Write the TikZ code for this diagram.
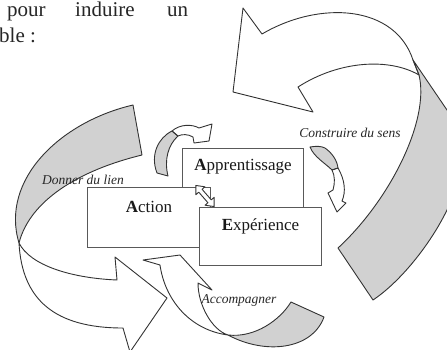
\documentclass[tikz,border=0pt]{standalone}
\usepackage{fontspec}
\setmainfont{Liberation Serif}
\begin{document}
\begin{tikzpicture}[x=1pt,y=-1pt,
  edge/.style={draw=black!80, line width=0.9pt, line join=round},
  back/.style={edge, fill=black!18},
  face/.style={edge, fill=none},
  card/.style={draw=black!65, line width=1.1pt, fill=white, rectangle, inner sep=0pt},
  lbl/.style={font=\fontsize{13.5}{16}\selectfont\itshape, text=black!85, inner sep=0pt},
  word/.style={font=\fontsize{21}{24}\selectfont, anchor=base west, inner sep=0pt, text=black!85},
  title/.style={font=\fontsize{17}{20}\selectfont, text=black!90, inner sep=0pt}]
\useasboundingbox (0,0) rectangle (447,349);
\clip (0,0) rectangle (447,349);

% running text above the figure
\node[word] (w1) at (7,16) {pour};
\node[word] (w2) at (75,16) {induire};
\node[word] (w3) at (167,16) {un};
\node[word] (w4) at (-1,42) {ble :};

% large arrow, right side and top
\path[back] (338,248) -- (373,300) .. controls (400,282) and (430,245) .. (447,210)
  -- (470,160) -- (470,140) -- (447,110) -- (413,60) -- (419,75)
  .. controls (430,120) and (390,200) .. (338,248) -- cycle;
\path[face] (413,60) .. controls (395,5) and (320,0) .. (262,34) -- (243,8) -- (233,92)
  -- (313,112) -- (298,87) .. controls (340,60) and (390,58) .. (419,75) -- cycle;

% large arrow, left side
\path[back] (133,105) .. controls (60,122) and (0,180) .. (19,243)
  .. controls (30,200) and (80,170) .. (142,155) -- cycle;
\path[face] (19,243) .. controls (22,300) and (55,328) .. (123,328) -- (130,352) -- (167,298)
  -- (115,257) -- (117,280) .. controls (70,278) and (30,265) .. (19,243) -- cycle;

% lower arrow
\path[back] (228,335) .. controls (255,338) and (280,320) .. (291,302) -- (324,317)
  .. controls (312,350) and (265,355) .. (228,335) -- cycle;
\path[face] (228,335) .. controls (190,330) and (165,300) .. (160,265) -- (143,260) -- (180,255)
  -- (212,290) -- (198,283) .. controls (198,305) and (212,330) .. (228,335) -- cycle;

% small arrow above the cards
\path[back] (157,173) .. controls (150,155) and (158,138) .. (172,131) -- (178,136)
  .. controls (168,145) and (164,160) .. (168,176) -- cycle;
\path[face] (172,131) .. controls (180,124) and (192,124) .. (199,128) -- (212,124) -- (209,141)
  -- (194,143) -- (193,137) .. controls (188,134) and (182,134) .. (178,136) -- cycle;

% small arrow on the right of the cards
\path[back] (310,147) .. controls (316,146) and (321,146) .. (325,148)
  .. controls (332,153) and (337,160) .. (338,168) -- (332,170)
  .. controls (325,163) and (314,157) .. (310,147) -- cycle;
\path[face] (338,168) .. controls (345,180) and (346,192) .. (342,201) -- (346,203) -- (337,212)
  -- (328,193) -- (333,190) .. controls (335,183) and (335,176) .. (332,170) -- cycle;

% cards
\node[card, minimum width=121pt, minimum height=67pt, anchor=north west] (appr) at (182,148) {};
\node[card, minimum width=123pt, minimum height=60pt, anchor=north west] (act) at (87,187) {};
\node[card, minimum width=122pt, minimum height=58pt, anchor=north west] (exp) at (199,207) {};
\path (appr.north) ++(0,19) node[title] (tappr) {\textbf{A}pprentissage};
\path (act.north) ++(0,20) node[title] (tact) {\textbf{A}ction};
\path (exp.north) ++(0,19) node[title] (texp) {\textbf{E}xpérience};

% two-way arrow between the cards
\begin{scope}[shift={(205,196)}, rotate=-49]
  \path[edge, fill=white] (-14,0) -- (-7,-6) -- (-7,-2.2) -- (7,-2.2) -- (7,-6) -- (14,0)
    -- (7,6) -- (7,2.2) -- (-7,2.2) -- (-7,6) -- cycle;
\end{scope}

% arrow labels
\node[lbl] (l1) at (350,133) {Construire du sens};
\node[lbl] (l2) at (83,180) {Donner du lien};
\node[lbl] (l3) at (239,300) {Accompagner};
\end{tikzpicture}
\end{document}
